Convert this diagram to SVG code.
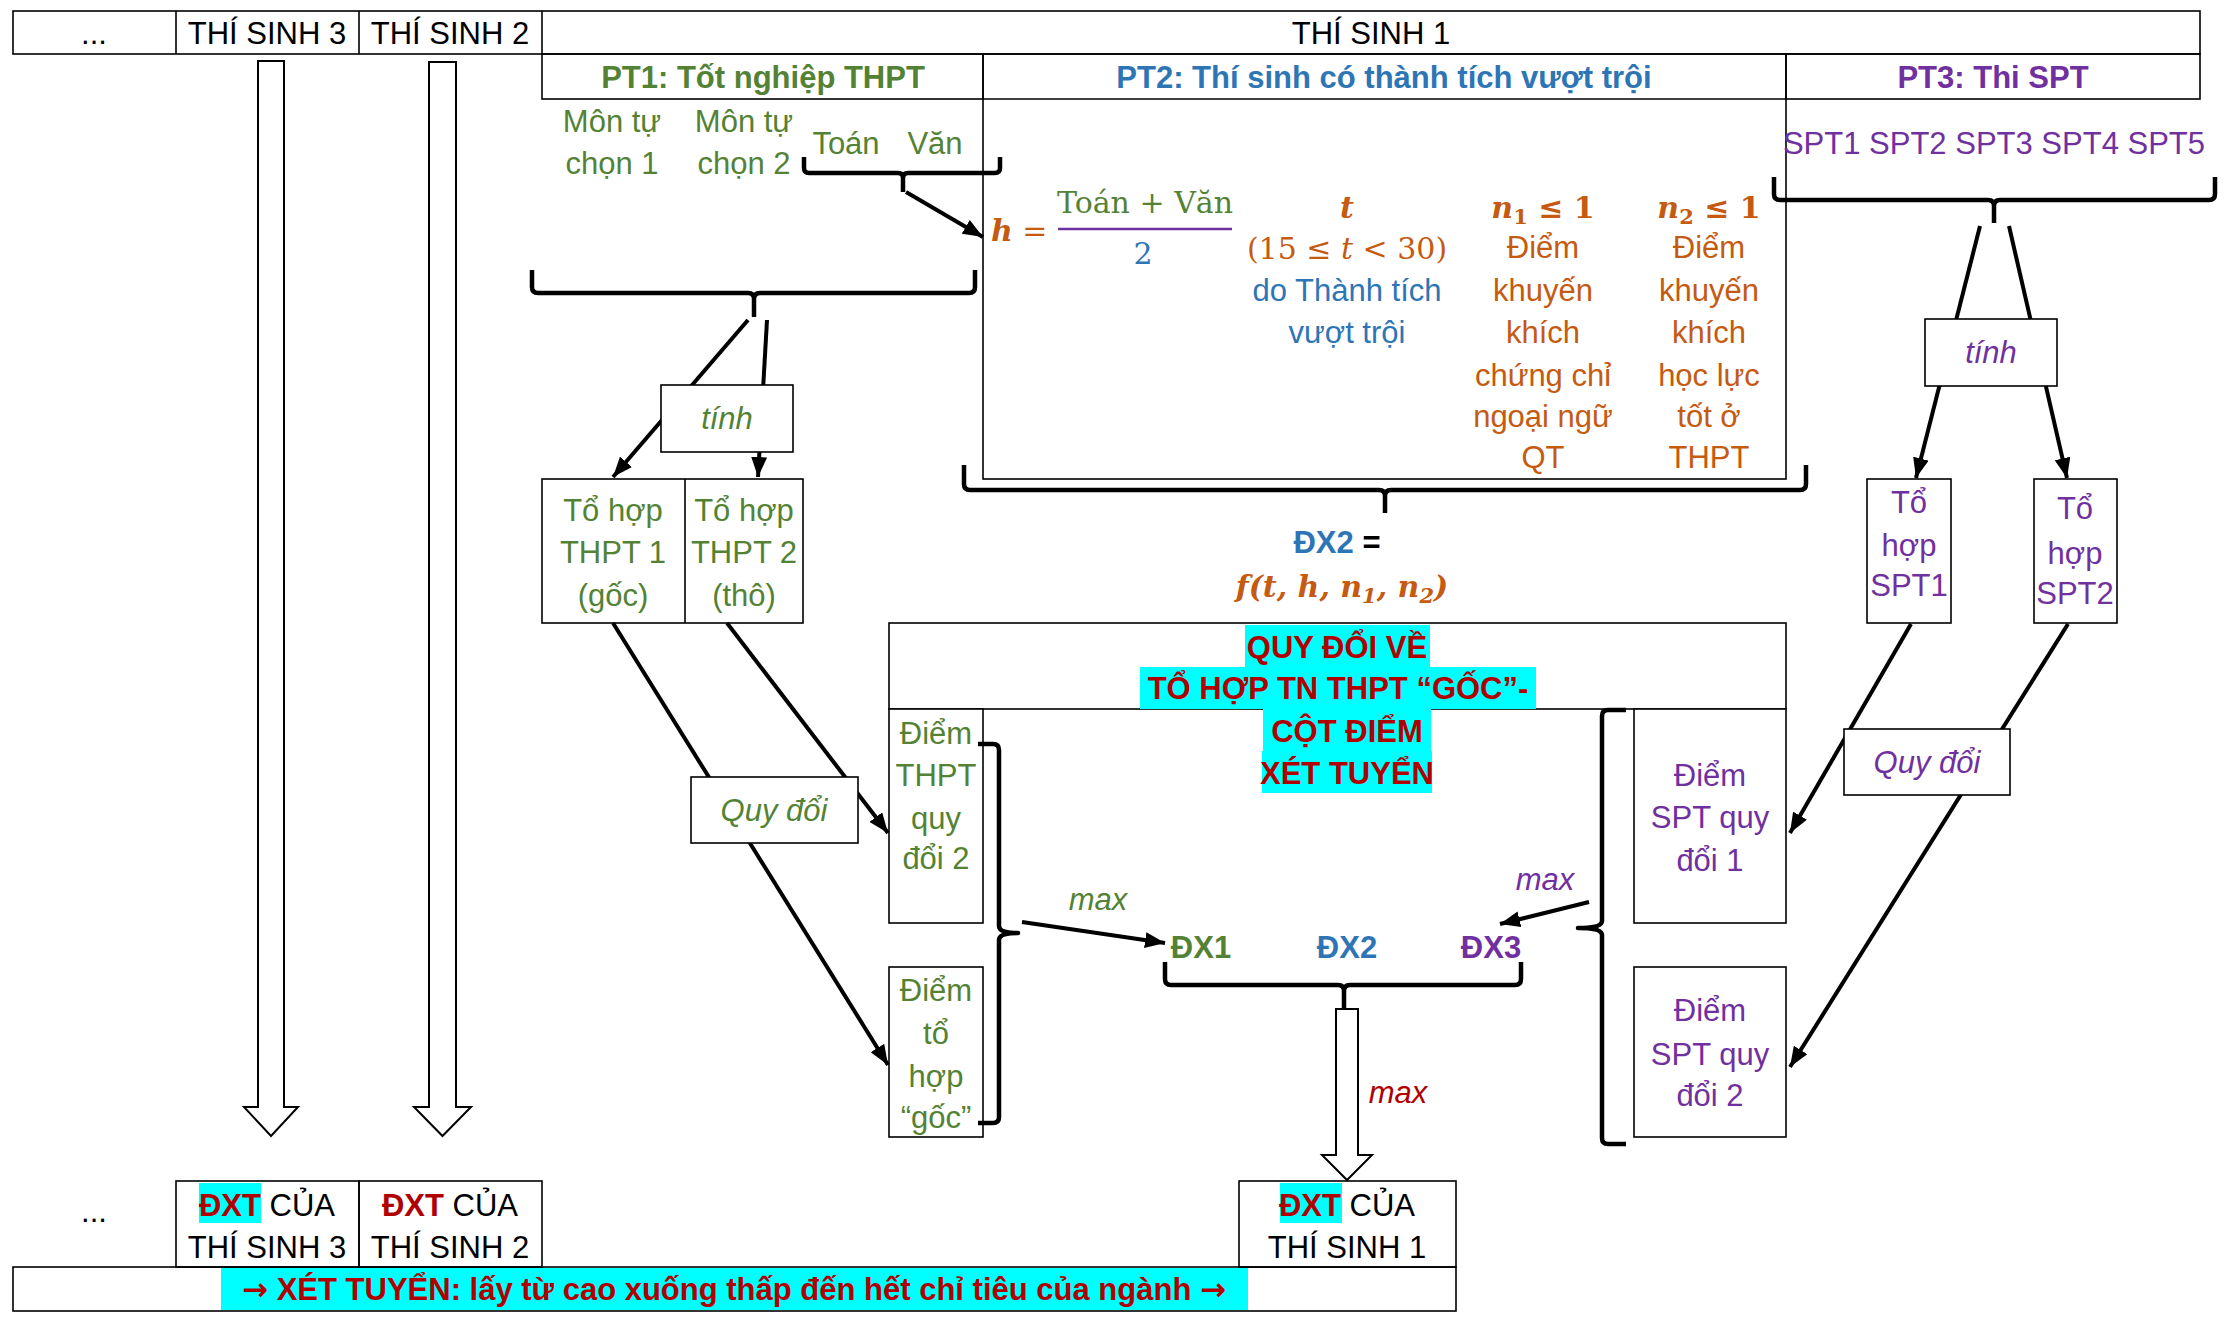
<svg xmlns="http://www.w3.org/2000/svg" width="2226" height="1321" viewBox="0 0 2226 1321">
<defs>
<style>
.ln{stroke:#000;stroke-width:1.6;fill:none}
.bx{stroke:#000;stroke-width:1.6;fill:#fff}
.cn{stroke:#000;stroke-width:4;fill:none;marker-end:url(#ah)}
.br{stroke:#000;stroke-width:4.5;fill:none;stroke-linejoin:round}
.ba{stroke:#000;stroke-width:2;fill:#fff}
.t{font-family:"Liberation Sans",Arial,sans-serif;font-size:31px;text-anchor:middle}
.m{font-family:"DejaVu Serif",serif;font-size:30px}
.b{font-weight:bold}
.i{font-style:italic}
.g{fill:#548235}.bl{fill:#2E75B6}.p{fill:#7030A0}.o{fill:#C55A11}.r{fill:#B00000}.k{fill:#000}
.hl{fill:#00FFFF}
</style>
<marker id="ah" viewBox="0 0 10 8" refX="10" refY="4" markerWidth="20" markerHeight="16" markerUnits="userSpaceOnUse" orient="auto"><path d="M0,0 L10,4 L0,8 z" fill="#000"/></marker>
</defs>
<rect width="2226" height="1321" fill="#fff"/>

<g id="table">
<rect class="ln" x="13" y="11" width="2187" height="43"/>
<path class="ln" d="M176,11V54M359,11V54M542,11V54"/>
<rect class="ln" x="542" y="54" width="441" height="45"/>
<rect class="ln" x="983" y="54" width="803" height="425"/>
<path class="ln" d="M983,99H1786"/>
<rect class="ln" x="1786" y="54" width="414" height="45"/>
<text class="t k" x="94" y="44">...</text>
<text class="t k" x="267" y="44">THÍ SINH 3</text>
<text class="t k" x="450" y="44">THÍ SINH 2</text>
<text class="t k" x="1371" y="44">THÍ SINH 1</text>
<text class="t b g" x="763" y="88">PT1: Tốt nghiệp THPT</text>
<text class="t b bl" x="1384" y="88">PT2: Thí sinh có thành tích vượt trội</text>
<text class="t b p" x="1993" y="88">PT3: Thi SPT</text>
</g>

<g id="pt1-subjects">
<text class="t g" x="612" y="132">Môn tự</text>
<text class="t g" x="612" y="174">chọn 1</text>
<text class="t g" x="744" y="132">Môn tự</text>
<text class="t g" x="744" y="174">chọn 2</text>
<text class="t g" x="846" y="154">Toán</text>
<text class="t g" x="935" y="154">Văn</text>
</g>

<g id="pt2-formula">
<text class="m o" x="991" y="241" font-size="32"><tspan font-weight="bold" font-style="italic">h</tspan> =</text>
<text class="m g" x="1145" y="213" text-anchor="middle">Toán + Văn</text>
<path d="M1058,229H1232" stroke="#7030A0" stroke-width="2.5"/>
<text class="m bl" x="1143" y="264" text-anchor="middle">2</text>
</g>

<g id="pt2-t">
<text class="m o b i" x="1347" y="218" text-anchor="middle">t</text>
<text class="m o" x="1347" y="259" text-anchor="middle">(15 ≤ <tspan font-style="italic">t</tspan> &lt; 30)</text>
<text class="t bl" x="1347" y="301">do Thành tích</text>
<text class="t bl" x="1347" y="343">vượt trội</text>
</g>

<g id="pt2-n1">
<text class="m o b" x="1543" y="218" text-anchor="middle"><tspan font-style="italic">n</tspan><tspan font-size="21" dy="6">1</tspan><tspan dy="-6"> ≤ 1</tspan></text>
<text class="t o" x="1543" y="258">Điểm</text>
<text class="t o" x="1543" y="301">khuyến</text>
<text class="t o" x="1543" y="343">khích</text>
<text class="t o" x="1543" y="386">chứng chỉ</text>
<text class="t o" x="1543" y="427">ngoại ngữ</text>
<text class="t o" x="1543" y="468">QT</text>
</g>

<g id="pt2-n2">
<text class="m o b" x="1709" y="218" text-anchor="middle"><tspan font-style="italic">n</tspan><tspan font-size="21" dy="6">2</tspan><tspan dy="-6"> ≤ 1</tspan></text>
<text class="t o" x="1709" y="258">Điểm</text>
<text class="t o" x="1709" y="301">khuyến</text>
<text class="t o" x="1709" y="343">khích</text>
<text class="t o" x="1709" y="386">học lực</text>
<text class="t o" x="1709" y="427">tốt ở</text>
<text class="t o" x="1709" y="468">THPT</text>
</g>

<g id="pt3-subjects">
<text class="t p" x="1994" y="154" font-size="28.5">SPT1 SPT2 SPT3 SPT4 SPT5</text>
</g>

<g id="dx2-formula">
<text class="t b" x="1337" y="553"><tspan class="bl">ĐX2</tspan><tspan class="k"> =</tspan></text>
<text class="m o b i" x="1342" y="597" text-anchor="middle">f(t, h, n<tspan font-size="21" dy="6">1</tspan><tspan dy="-6">, n</tspan><tspan font-size="21" dy="6">2</tspan><tspan dy="-6">)</tspan></text>
</g>

<g id="tohop-thpt">
<rect class="bx" x="542" y="479" width="261" height="144"/>
<path class="ln" d="M685,479V623"/>
<text class="t g" x="613" y="521">Tổ hợp</text>
<text class="t g" x="613" y="563">THPT 1</text>
<text class="t g" x="613" y="606">(gốc)</text>
<text class="t g" x="744" y="521">Tổ hợp</text>
<text class="t g" x="744" y="563">THPT 2</text>
<text class="t g" x="744" y="606">(thô)</text>
</g>

<g id="tohop-spt1">
<rect class="bx" x="1867" y="479" width="84" height="144"/>
<text class="t p" x="1909" y="513">Tổ</text>
<text class="t p" x="1909" y="556">hợp</text>
<text class="t p" x="1909" y="596">SPT1</text>
</g>
<g id="tohop-spt2">
<rect class="bx" x="2034" y="479" width="83" height="144"/>
<text class="t p" x="2075" y="519">Tổ</text>
<text class="t p" x="2075" y="564">hợp</text>
<text class="t p" x="2075" y="604">SPT2</text>
</g>

<g id="quydoi-cot">
<rect class="bx" x="889" y="623" width="897" height="86"/>
</g>
<g id="diem-thpt-qd2">
<rect class="bx" x="889" y="709" width="94" height="214"/>
<text class="t g" x="936" y="744">Điểm</text>
<text class="t g" x="936" y="786">THPT</text>
<text class="t g" x="936" y="829">quy</text>
<text class="t g" x="936" y="869">đổi 2</text>
</g>
<g id="diem-goc">
<rect class="bx" x="889" y="967" width="94" height="170"/>
<text class="t g" x="936" y="1001">Điểm</text>
<text class="t g" x="936" y="1044">tổ</text>
<text class="t g" x="936" y="1087">hợp</text>
<text class="t g" x="936" y="1128">“gốc”</text>
</g>
<g id="diem-spt-qd1">
<rect class="bx" x="1634" y="709" width="152" height="214"/>
<text class="t p" x="1710" y="786">Điểm</text>
<text class="t p" x="1710" y="828">SPT quy</text>
<text class="t p" x="1710" y="871">đổi 1</text>
</g>
<g id="diem-spt-qd2">
<rect class="bx" x="1634" y="967" width="152" height="170"/>
<text class="t p" x="1710" y="1021">Điểm</text>
<text class="t p" x="1710" y="1065">SPT quy</text>
<text class="t p" x="1710" y="1106">đổi 2</text>
</g>

<g id="quydoi-title">
<rect class="hl" x="1245" y="625" width="185" height="42"/>
<rect class="hl" x="1140" y="667" width="396" height="42"/>
<rect class="hl" x="1263" y="709" width="168" height="42"/>
<rect class="hl" x="1262" y="751" width="170" height="42"/>
<text class="t b r" x="1337" y="658">QUY ĐỔI VỀ</text>
<text class="t b r" x="1338" y="699">TỔ HỢP TN THPT “GỐC”-</text>
<text class="t b r" x="1347" y="742">CỘT ĐIỂM</text>
<text class="t b r" x="1347" y="784">XÉT TUYỂN</text>
</g>

<g id="dx-labels">
<text class="t b g" x="1201" y="958">ĐX1</text>
<text class="t b bl" x="1347" y="958">ĐX2</text>
<text class="t b p" x="1491" y="958">ĐX3</text>
<text class="t i g" x="1098" y="910">max</text>
<text class="t i p" x="1545" y="890">max</text>
<text class="t i r" x="1398" y="1103">max</text>
</g>

<g id="brackets">
<path class="br" d="M804,157V168Q804,173 809,173H898Q903,173 903,178V192M903,178Q903,173 908,173H995Q1000,173 1000,168V157"/>
<path class="br" d="M532,270V287Q532,293 538,293H748Q754,293 754,299V317M754,299Q754,293 760,293H969Q975,293 975,287V270"/>
<path class="br" d="M964,465V484Q964,490 970,490H1379Q1385,490 1385,496V513M1385,496Q1385,490 1391,490H1800Q1806,490 1806,484V465"/>
<path class="br" d="M1774,177V194Q1774,200 1780,200H1988Q1994,200 1994,206V223M1994,206Q1994,200 2000,200H2209Q2215,200 2215,194V177"/>
<path class="br" d="M978,744H993Q999,744 999,750V926Q999,933 1018,933Q999,933 999,940V1117Q999,1123 993,1123H978"/>
<path class="br" d="M1626,710H1608Q1602,710 1602,716V921Q1602,928 1578,928Q1602,928 1602,935V1138Q1602,1144 1608,1144H1626"/>
<path class="br" d="M1165,962V979Q1165,985 1171,985H1338Q1344,985 1344,991V1008M1344,991Q1344,985 1350,985H1515Q1521,985 1521,979V962"/>
</g>

<g id="connectors">
<path class="cn" d="M906,192L983,237"/>
<path class="cn" d="M748,320L613,477"/>
<path class="cn" d="M767,320L758,477"/>
<path class="cn" d="M613,623L888,1065"/>
<path class="cn" d="M727,623L888,833"/>
<path class="cn" d="M1022,922L1165,943"/>
<path class="cn" d="M1589,902L1500,924"/>
<path class="cn" d="M1980,226L1916,478"/>
<path class="cn" d="M2009,226L2067,478"/>
<path class="cn" d="M1911,624L1790,833"/>
<path class="cn" d="M2068,624L1790,1067"/>
<polygon class="ba" points="258,61 284,61 284,1107 298,1107 271,1136 244,1107 258,1107"/>
<polygon class="ba" points="429,62 456,62 456,1107 471,1107 442.5,1136 414,1107 429,1107"/>
<polygon class="ba" points="1336,1009 1358,1009 1358,1155 1372,1155 1347,1180 1322,1155 1336,1155"/>
</g>

<g id="tinh-pt1">
<rect class="bx" x="661" y="385" width="132" height="67"/>
<text class="t i g" x="727" y="429">tính</text>
</g>
<g id="tinh-pt3">
<rect class="bx" x="1925" y="319" width="132" height="67"/>
<text class="t i p" x="1991" y="363">tính</text>
</g>
<g id="quydoi-pt1">
<rect class="bx" x="691" y="777" width="167" height="66"/>
<text class="t i g" x="774" y="821">Quy đổi</text>
</g>
<g id="quydoi-pt3">
<rect class="bx" x="1844" y="729" width="166" height="66"/>
<text class="t i p" x="1927" y="773">Quy đổi</text>
</g>

<g id="result-row">
<rect class="ln" x="176" y="1181" width="183" height="86"/>
<rect class="ln" x="359" y="1181" width="183" height="86"/>
<rect class="ln" x="1239" y="1181" width="217" height="86"/>
<rect class="hl" x="199" y="1183" width="62" height="40"/>
<rect class="hl" x="1280" y="1183" width="62" height="40"/>
<text class="t k" x="94" y="1222">...</text>
<text class="t k" x="267" y="1216"><tspan class="b r">ĐXT</tspan> CỦA</text>
<text class="t k" x="267" y="1258">THÍ SINH 3</text>
<text class="t k" x="450" y="1216"><tspan class="b r">ĐXT</tspan> CỦA</text>
<text class="t k" x="450" y="1258">THÍ SINH 2</text>
<text class="t k" x="1347" y="1216"><tspan class="b r">ĐXT</tspan> CỦA</text>
<text class="t k" x="1347" y="1258">THÍ SINH 1</text>
</g>
<g id="selection-bar">
<rect class="ln" x="13" y="1267" width="1443" height="44"/>
<rect class="hl" x="221" y="1268" width="1027" height="42"/>
<text class="t b r" x="734" y="1300" font-size="31"><tspan font-family="DejaVu Sans">→</tspan> XÉT TUYỂN: lấy từ cao xuống thấp đến hết chỉ tiêu của ngành <tspan font-family="DejaVu Sans">→</tspan></text>
</g>
</svg>
